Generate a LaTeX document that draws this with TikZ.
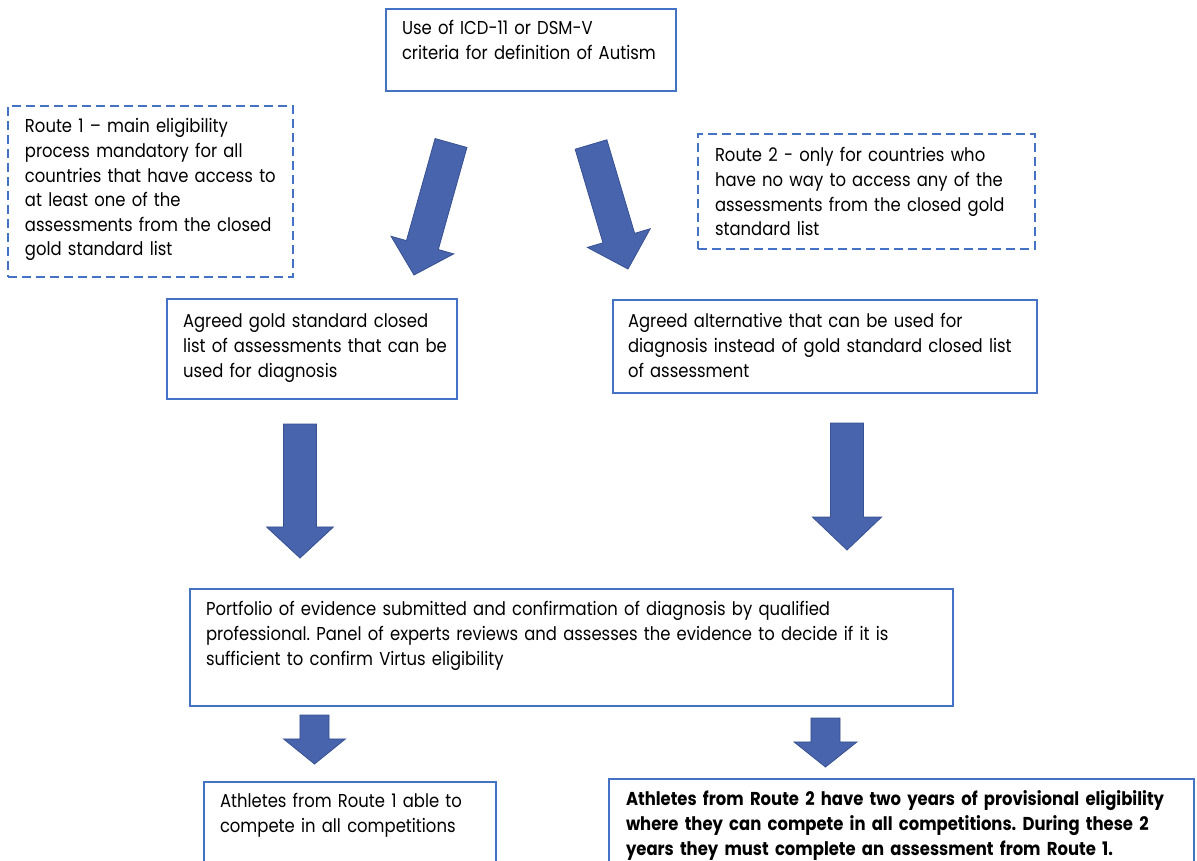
\documentclass[tikz,border=0pt]{standalone}
\usepackage{fontspec}
\setmainfont{Poppins}[FakeStretch=0.88]
\usetikzlibrary{calc}
\definecolor{boxblue}{RGB}{68,114,196}
\definecolor{arrowfill}{RGB}{72,100,172}
\definecolor{arrowedge}{RGB}{55,80,145}
\tikzset{
  box/.style={draw=boxblue, line width=1.5pt, fill=white, inner sep=0pt, outer sep=0pt},
  dbox/.style={draw=boxblue, line width=1.5pt, dash pattern=on 6.5pt off 4pt, inner sep=0pt, outer sep=0pt},
  txt/.style={anchor=north west, inner sep=0pt, outer sep=0pt, align=left, text width=600pt,
    font=\fontsize{14}{18.4}\selectfont\frenchspacing, text=black},
  barrow/.style={fill=arrowfill, draw=arrowedge, line width=0.6pt, line join=miter},
}
\newcommand\mybox[6]{\node[#6, anchor=north west, minimum width={0.75pt*(#4-#2)}, minimum height={0.75pt*(#5-#3)}] (#1) at (#2,#3) {};}
\newcommand\blockarrow[5]{%
  \coordinate (#2-h) at ($(#2)!#5!(#1)$);
  \draw[barrow] ($(#1)!#3!90:(#2)$) -- ($(#2-h)!#3!90:(#2)$) -- ($(#2-h)!#4!90:(#2)$) -- (#2)
    -- ($(#2-h)!#4!-90:(#2)$) -- ($(#2-h)!#3!-90:(#2)$) -- ($(#1)!#3!-90:(#2)$) -- cycle;
}
\begin{document}
\begin{tikzpicture}[x=0.75pt, y=-0.75pt]
\clip (0,0) rectangle (1197,861);
\fill[white] (0,0) rectangle (1197,861);
% boxes
\mybox{top}{386}{9}{676}{91}{box}
\mybox{rone}{8}{106}{293}{277}{dbox}
\mybox{rtwo}{698}{134}{1035}{249}{dbox}
\mybox{gold}{167}{299}{457}{399}{box}
\mybox{alt}{613}{300}{1037}{393}{box}
\mybox{port}{190}{589}{953}{706}{box}
\mybox{athone}{204}{782}{496}{880}{box}
\mybox{athtwo}{609}{779}{1194}{880}{box}
% texts
\node[txt] (topT) at (402,17.3) {\strut Use of ICD-11 or DSM-V\\criteria for definition of Autism};
\node[txt] (roneT) at (25,115.8) {\strut Route 1 – main eligibility\\process mandatory for all\\countries that have access to\\at least one of the\\assessments from the closed\\gold standard list};
\node[txt] (rtwoT) at (715,144.8) {\strut Route 2 - only for countries who\\have no way to access any of the\\assessments from the closed gold\\standard list};
\node[txt] (goldT) at (183,310.8) {\strut Agreed gold standard closed\\list of assessments that can be\\used for diagnosis};
\node[txt] (altT) at (628,310.8) {\strut Agreed alternative that can be used for\\diagnosis instead of gold standard closed list\\of assessment};
\node[txt] (portT) at (206,598.8) {\strut Portfolio of evidence submitted and confirmation of diagnosis by qualified\\professional. Panel of experts reviews and assesses the evidence to decide if it is\\sufficient to confirm Virtus eligibility};
\node[txt] (athoneT) at (220,790.8) {\strut Athletes from Route 1 able to\\compete in all competitions};
\node[txt, font=\fontsize{14}{18.4}\selectfont\bfseries\frenchspacing] (athtwoT) at (626,788.8) {\strut Athletes from Route 2 have two years of provisional eligibility\\where they can compete in all competitions. During these 2\\years they must complete an assessment from Route 1.};
% arrows
\coordinate (a1t) at (451,143); \coordinate (a1h) at (414,275);
\coordinate (a2t) at (591,144.5); \coordinate (a2h) at (628,269);
\coordinate (a3t) at (300,424); \coordinate (a3h) at (300,558);
\coordinate (a4t) at (847,423); \coordinate (a4h) at (847,550);
\coordinate (a5t) at (314.5,715); \coordinate (a5h) at (314.5,764);
\coordinate (a6t) at (825.5,718); \coordinate (a6h) at (825.5,767);
\blockarrow{a1t}{a1h}{12.4pt}{24.4pt}{23.3pt}
\blockarrow{a2t}{a2h}{12.4pt}{24.6pt}{24.2pt}
\blockarrow{a3t}{a3h}{12.4pt}{25.1pt}{23.3pt}
\blockarrow{a4t}{a4h}{12.4pt}{25.9pt}{24.7pt}
\blockarrow{a5t}{a5h}{10.9pt}{23.2pt}{18.8pt}
\blockarrow{a6t}{a6h}{10.9pt}{23.6pt}{18.8pt}
\end{tikzpicture}
\end{document}
